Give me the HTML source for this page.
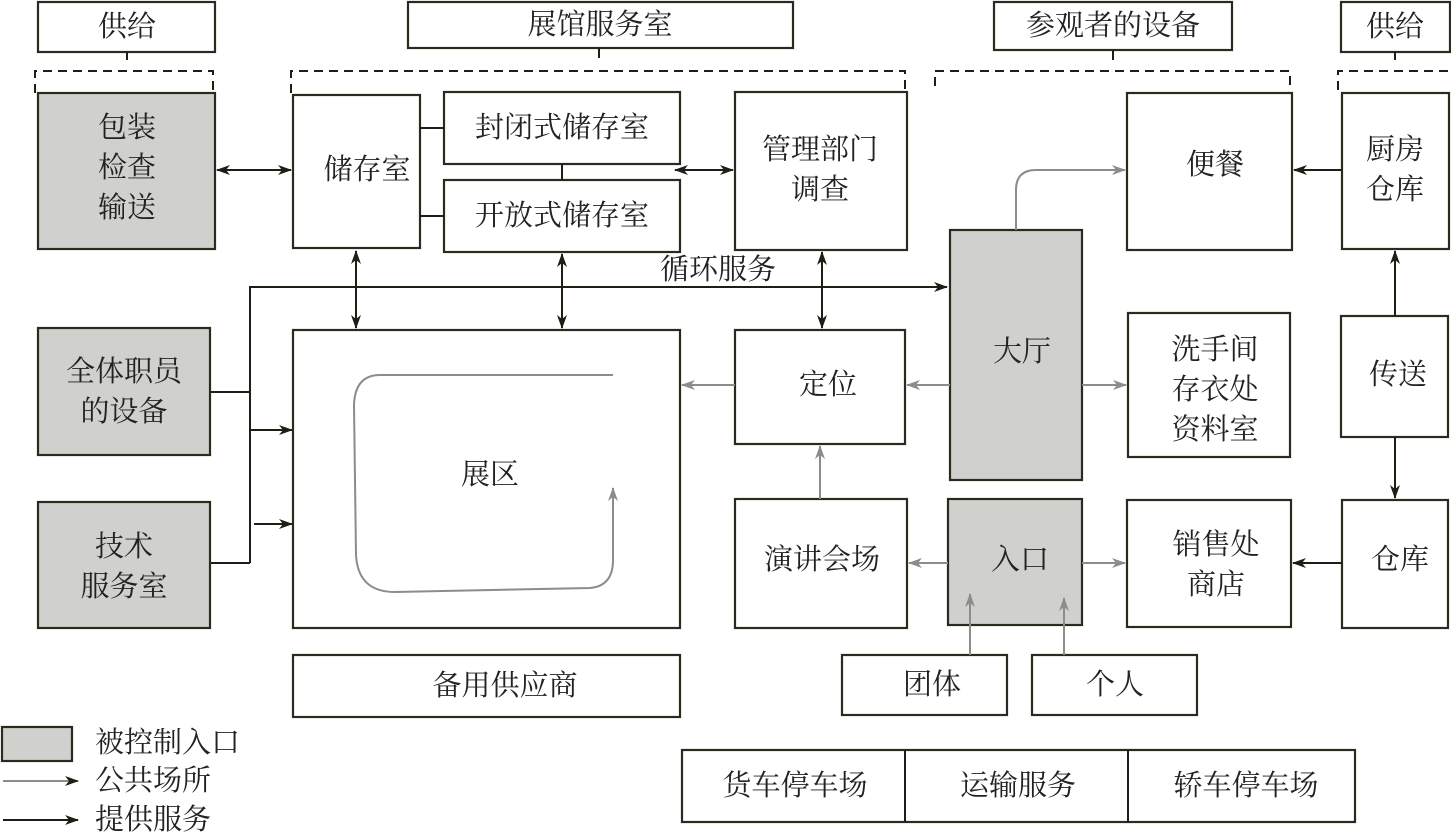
<!DOCTYPE html>
<html><head><meta charset="utf-8"><style>
body{margin:0;background:#fff}
svg{display:block}
text{font-family:"Liberation Serif","Noto Serif CJK SC","Noto Sans CJK SC",serif;font-size:29px;fill:#222;text-anchor:middle;dominant-baseline:central}
.b{fill:#fff;stroke:#2a2a1e;stroke-width:2.2}
.g{fill:#d0d1cc;stroke:#2a2a1e;stroke-width:2.2}
.k{stroke:#1e1e14;stroke-width:2;fill:none}
.y{stroke:#8c8c88;stroke-width:2;fill:none}
.d{stroke:#1e1e14;stroke-width:2;fill:none;stroke-dasharray:9,6}
</style></head><body>
<svg width="1451" height="837" viewBox="0 0 1451 837">
<defs>
<marker id="ak" viewBox="0 0 14 10" refX="13" refY="5" markerWidth="14" markerHeight="10" markerUnits="userSpaceOnUse" orient="auto-start-reverse"><path d="M0,0 L14,5 L0,10 L4,5z" fill="#1e1e14"/></marker>
<marker id="ag" viewBox="0 0 14 10" refX="13" refY="5" markerWidth="14" markerHeight="10" markerUnits="userSpaceOnUse" orient="auto-start-reverse"><path d="M0,0 L14,5 L0,10 L4,5z" fill="#8c8c88"/></marker>
</defs>

<!-- header boxes -->
<rect class="b" x="38" y="2" width="177" height="50"/><text x="127" y="27">供给</text>
<line class="k" x1="127" y1="52" x2="127" y2="60"/>
<path class="d" d="M35,93 V71 H213 V93"/>
<rect class="b" x="408" y="2" width="385" height="46"/><text x="600" y="25">展馆服务室</text>
<line class="k" x1="599" y1="48" x2="599" y2="58"/>
<path class="d" d="M291,93 V71 H905 V93"/>
<rect class="b" x="994" y="2" width="238" height="48"/><text x="1113" y="26">参观者的设备</text>
<line class="k" x1="1113" y1="50" x2="1113" y2="60"/>
<path class="d" d="M935,86 V71 H1290 V86"/>
<rect class="b" x="1341" y="2" width="109" height="50"/><text x="1395" y="27">供给</text>
<line class="k" x1="1395" y1="52" x2="1395" y2="60"/>
<path class="d" d="M1338,90 V71 H1450"/>

<!-- top row -->
<rect class="g" x="38" y="93" width="177" height="156"/>
<text x="127" y="128">包装</text><text x="127" y="168">检查</text><text x="127" y="208">输送</text>
<rect class="b" x="293" y="95" width="127" height="153"/><text x="367" y="170">储存室</text>
<rect class="b" x="444" y="92" width="236" height="72"/><text x="562" y="128">封闭式储存室</text>
<rect class="b" x="444" y="180" width="236" height="72"/><text x="562" y="216">开放式储存室</text>
<line class="k" x1="420" y1="128" x2="444" y2="128"/>
<line class="k" x1="420" y1="216" x2="444" y2="216"/>
<line class="k" x1="562" y1="164" x2="562" y2="180"/>
<rect class="b" x="735" y="92" width="172" height="158"/><text x="820" y="150">管理部门</text><text x="820" y="190">调查</text>
<rect class="b" x="1127" y="93" width="165" height="157"/><text x="1215" y="165">便餐</text>
<rect class="b" x="1342" y="93" width="107" height="156"/><text x="1395" y="150">厨房</text><text x="1395" y="190">仓库</text>

<line class="k" x1="217" y1="170" x2="291" y2="170" marker-start="url(#ak)" marker-end="url(#ak)"/>
<line class="k" x1="675" y1="170" x2="733" y2="170" marker-start="url(#ak)" marker-end="url(#ak)"/>
<line class="k" x1="1342" y1="170" x2="1294" y2="170" marker-end="url(#ak)"/>

<!-- 大厅 -->
<rect class="g" x="950" y="230" width="132" height="250"/><text x="1022" y="352">大厅</text>
<path class="y" d="M1016,230 V190 Q1016,170 1036,170 H1125" marker-end="url(#ag)"/>

<!-- circulation service -->
<text x="718" y="270">循环服务</text>
<path class="k" d="M250,563 V287 H947" marker-end="url(#ak)"/>
<line class="k" x1="210" y1="392" x2="250" y2="392"/>
<line class="k" x1="210" y1="563" x2="250" y2="563"/>
<line class="k" x1="250" y1="430" x2="292" y2="430" marker-end="url(#ak)"/>
<line class="k" x1="254" y1="524" x2="292" y2="524" marker-end="url(#ak)"/>
<line class="k" x1="356" y1="251" x2="356" y2="328" marker-start="url(#ak)" marker-end="url(#ak)"/>
<line class="k" x1="562" y1="254" x2="562" y2="328" marker-start="url(#ak)" marker-end="url(#ak)"/>
<line class="k" x1="822" y1="252" x2="822" y2="328" marker-start="url(#ak)" marker-end="url(#ak)"/>

<!-- left boxes -->
<rect class="g" x="38" y="328" width="172" height="127"/><text x="124" y="372">全体职员</text><text x="124" y="412">的设备</text>
<rect class="g" x="38" y="502" width="172" height="126"/><text x="124" y="547">技术</text><text x="124" y="587">服务室</text>

<!-- exhibit -->
<rect class="b" x="293" y="330" width="387" height="298"/><text x="490" y="475">展区</text>
<path class="y" d="M613,375 H380 Q355,375 354,405 L356,555 Q358,592 395,592 L590,588 Q613,586 613,560 V488" marker-end="url(#ag)"/>

<!-- middle -->
<rect class="b" x="735" y="330" width="170" height="114"/><text x="828" y="385">定位</text>
<rect class="b" x="1128" y="313" width="162" height="144"/><text x="1215" y="350">洗手间</text><text x="1215" y="390">存衣处</text><text x="1215" y="430">资料室</text>
<rect class="b" x="1341" y="316" width="107" height="121"/><text x="1398" y="375">传送</text>
<line class="y" x1="950" y1="385" x2="907" y2="385" marker-end="url(#ag)"/>
<line class="y" x1="735" y1="385" x2="682" y2="385" marker-end="url(#ag)"/>
<line class="y" x1="1082" y1="385" x2="1126" y2="385" marker-end="url(#ag)"/>
<line class="k" x1="1395" y1="316" x2="1395" y2="251" marker-end="url(#ak)"/>
<line class="k" x1="1395" y1="437" x2="1395" y2="498" marker-end="url(#ak)"/>

<!-- lower -->
<rect class="b" x="735" y="499" width="172" height="129"/><text x="822" y="560">演讲会场</text>
<rect class="g" x="948" y="499" width="134" height="126"/><text x="1020" y="560">入口</text>
<rect class="b" x="1127" y="500" width="164" height="127"/><text x="1216" y="545">销售处</text><text x="1216" y="585">商店</text>
<rect class="b" x="1342" y="500" width="106" height="128"/><text x="1400" y="560">仓库</text>
<line class="y" x1="820" y1="499" x2="820" y2="446" marker-end="url(#ag)"/>
<line class="y" x1="948" y1="563" x2="909" y2="563" marker-end="url(#ag)"/>
<line class="y" x1="1082" y1="563" x2="1125" y2="563" marker-end="url(#ag)"/>
<line class="k" x1="1342" y1="563" x2="1293" y2="563" marker-end="url(#ak)"/>
<rect class="b" x="842" y="655" width="165" height="60"/><text x="932" y="685">团体</text>
<rect class="b" x="1032" y="655" width="165" height="60"/><text x="1115" y="685">个人</text>
<line class="y" x1="970" y1="655" x2="970" y2="594" marker-end="url(#ag)"/>
<line class="y" x1="1064" y1="655" x2="1064" y2="598" marker-end="url(#ag)"/>

<rect class="b" x="293" y="655" width="387" height="62"/><text x="505" y="686">备用供应商</text>
<rect class="b" x="682" y="750" width="673" height="72"/>
<line class="k" x1="905" y1="750" x2="905" y2="822"/>
<line class="k" x1="1128" y1="750" x2="1128" y2="822"/>
<text x="795" y="786">货车停车场</text><text x="1018" y="786">运输服务</text><text x="1246" y="786">轿车停车场</text>

<!-- legend -->
<rect class="g" x="2" y="727" width="70" height="34"/>
<text x="95" y="743" style="text-anchor:start">被控制入口</text>
<line class="y" x1="3" y1="781" x2="78" y2="781" marker-end="url(#ak)"/>
<text x="95" y="781" style="text-anchor:start">公共场所</text>
<line class="k" x1="3" y1="820" x2="78" y2="820" marker-end="url(#ak)"/>
<text x="95" y="820" style="text-anchor:start">提供服务</text>
</svg>
</body></html>
